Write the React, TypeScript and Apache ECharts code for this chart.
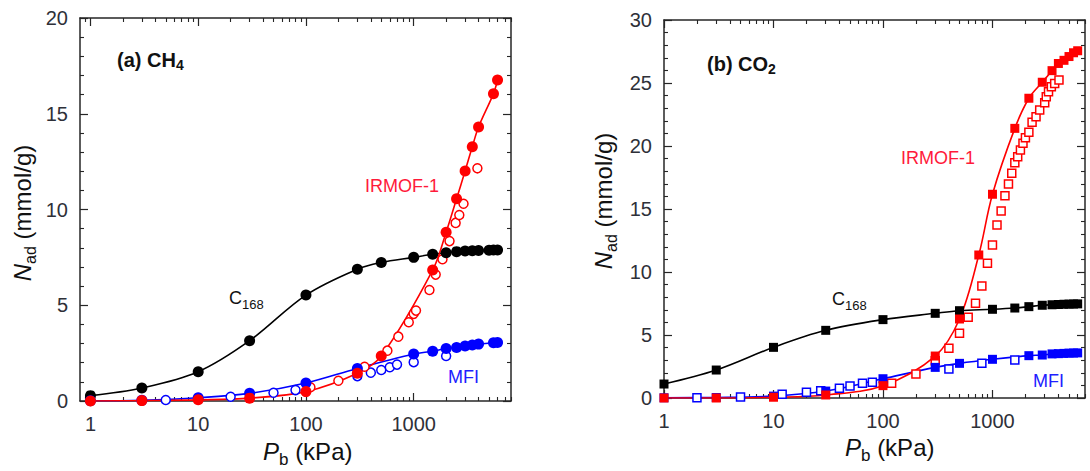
import React, { useEffect, useRef } from 'react';
import * as echarts from 'echarts';

// ---------- (a) CH4 : [pressure kPa, loading mmol/g] ----------
const ch4C168: [number, number][] = [
  [1, 0.28], [3, 0.68], [10, 1.53], [30, 3.15], [100, 5.53], [300, 6.88], [500, 7.23],
  [1000, 7.5], [1500, 7.66], [2000, 7.74], [2500, 7.8], [3000, 7.83], [3500, 7.85],
  [4000, 7.86], [5000, 7.87], [5500, 7.88], [6000, 7.88],
];
const ch4Irmof: [number, number][] = [
  [1, 0], [3, 0.02], [10, 0.06], [30, 0.15], [100, 0.49], [300, 1.45], [500, 2.35],
  [1500, 6.84], [2000, 8.81], [2500, 10.56], [3000, 12.01], [3500, 13.28], [4000, 14.31],
  [5500, 16.05], [6000, 16.76],
];
const ch4IrmofOpen: [number, number][] = [
  [110, 0.72], [200, 1.06], [350, 1.79], [570, 2.63], [720, 3.36], [900, 4.11], [1000, 4.55],
  [1050, 4.72], [1400, 5.8], [1600, 6.6], [1850, 7.4], [2150, 8.35], [2450, 9.3], [2650, 9.71],
  [2900, 10.3], [3900, 12.15],
];
const ch4Mfi: [number, number][] = [
  [1, 0.01], [3, 0.04], [10, 0.17], [30, 0.4], [100, 0.94], [300, 1.7], [1000, 2.45],
  [1500, 2.6], [2000, 2.74], [2500, 2.79], [3000, 2.87], [3500, 2.92], [4000, 2.97],
  [5500, 3.04], [6000, 3.06],
];
const ch4MfiOpen: [number, number][] = [
  [5, 0.05], [20, 0.22], [50, 0.43], [80, 0.57], [300, 1.3], [400, 1.48], [500, 1.62],
  [600, 1.76], [700, 1.9], [1000, 2.03], [2000, 2.35],
];

// ---------- (b) CO2 ----------
const co2C168: [number, number][] = [
  [1, 1.11], [3, 2.22], [10, 4.02], [30, 5.37], [100, 6.22], [300, 6.72], [500, 6.93],
  [1000, 7.04], [1600, 7.14], [2150, 7.25], [2850, 7.36], [3500, 7.4], [4000, 7.42],
  [4500, 7.44], [5000, 7.45], [5500, 7.46], [6000, 7.47],
];
const co2Irmof: [number, number][] = [
  [1, 0], [3, 0], [10, 0.06], [30, 0.24], [100, 0.98], [300, 3.33], [500, 6.27], [750, 11.35],
  [1000, 16.17], [1600, 21.4], [2150, 23.79], [2850, 25.06], [3500, 25.98], [4000, 26.55],
  [4500, 26.8], [5000, 27.1], [5500, 27.4], [6000, 27.56],
];
const co2IrmofOpen: [number, number][] = [
  [120, 1.17], [200, 1.9], [300, 2.96], [400, 3.94], [500, 5.13], [600, 6.4], [700, 7.52],
  [800, 8.89], [900, 10.69], [1000, 12.14], [1100, 13.73], [1200, 14.84], [1300, 16.06],
  [1400, 16.98], [1500, 17.83], [1600, 18.67], [1700, 19.15], [1800, 19.68], [1900, 20.21],
  [2000, 20.66], [2150, 21.1], [2300, 21.88], [2500, 22.33], [2700, 22.86], [3000, 23.44],
  [3100, 23.9], [3250, 24.3], [3450, 24.7], [3700, 24.97], [4050, 25.24],
];
const co2Mfi: [number, number][] = [
  [1, 0.02], [3, 0.04], [10, 0.15], [30, 0.55], [100, 1.53], [300, 2.43], [500, 2.75],
  [1000, 3.07], [2150, 3.36], [2850, 3.41], [3500, 3.5], [4000, 3.52], [4500, 3.54],
  [5000, 3.56], [5500, 3.57], [6000, 3.58],
];
const co2MfiOpen: [number, number][] = [
  [2, 0.02], [5, 0.07], [12, 0.3], [20, 0.45], [27, 0.58], [40, 0.77], [50, 0.95],
  [65, 1.17], [80, 1.25], [400, 2.3], [800, 2.75], [1600, 3.02],
];

// ---------- axes ----------
const xMajor = [1, 10, 100, 1000];
const ch4XMinor = [
  0.9, 2, 3, 4, 5, 6, 7, 8, 9, 20, 30, 40, 50, 60, 70, 80, 90,
  200, 300, 400, 500, 600, 700, 800, 900, 2000, 3000, 4000, 5000, 6000, 7000, 8000,
];
const co2XMinor = [
  2, 3, 4, 5, 6, 7, 8, 9, 20, 30, 40, 50, 60, 70, 80, 90,
  200, 300, 400, 500, 600, 700, 800, 900, 2000, 3000, 4000, 5000, 6000, 7000,
];
const ch4XRange = [0.8, 8000];
const co2XRange = [1, 7000];
const ch4YMax = 20;
const co2YMax = 30;
const yStep = 5;

const FONT = '"Liberation Sans", Arial, Helvetica, sans-serif';
const AXIS = '#262626';
const LABEL = '#2e3038';
const RED = '#ff0000';
const BLUE = '#0000ff';
const BLACK = '#000000';

const measureCtx = typeof document !== 'undefined'
  ? document.createElement('canvas').getContext('2d')
  : null;

function textWidth(t: string, size: number, italic?: boolean, bold?: boolean) {
  if (!measureCtx) return t.length * size * 0.55;
  measureCtx.font = `${italic ? 'italic ' : ''}${bold ? 'bold ' : ''}${size}px ${FONT}`;
  return measureCtx.measureText(t).width;
}

type Run = { t: string; size: number; italic?: boolean; bold?: boolean; dy?: number };

// Lays out a line of mixed-size text (sub-scripts) as a graphic group.
function runText(runs: Run[], x: number, y: number, color: string, opts: { rotation?: number; center?: boolean } = {}) {
  const widths = runs.map((r) => textWidth(r.t, r.size, r.italic, r.bold));
  const total = widths.reduce((a, b) => a + b, 0);
  let cx = opts.center ? -total / 2 : 0;
  const children = runs.map((r, i) => {
    const el = {
      type: 'text',
      x: cx,
      y: r.dy || 0,
      style: {
        text: r.t,
        fill: color,
        fontSize: r.size,
        fontFamily: FONT,
        fontStyle: r.italic ? 'italic' : 'normal',
        fontWeight: r.bold ? 'bold' : 'normal',
        align: 'left',
        verticalAlign: 'middle',
        textAlign: 'left',
        textVerticalAlign: 'middle',
      },
    };
    cx += widths[i];
    return el;
  });
  return { type: 'group', x, y, rotation: opts.rotation || 0, silent: true, children };
}

function logAxes(gridIndex: number, range: number[], minor: number[]) {
  const base = {
    type: 'log',
    logBase: 10,
    gridIndex,
    min: range[0],
    max: range[1],
    splitLine: { show: false },
    minorTick: { show: false },
    minorSplitLine: { show: false },
  };
  const line = { show: true, onZero: false, lineStyle: { color: AXIS, width: 1.5 } };
  const noLine = { show: false, onZero: false };
  const majTick = { show: true, inside: true, length: 8, customValues: xMajor, lineStyle: { color: AXIS, width: 1.2 } };
  const minTick = { show: true, inside: true, length: 4, customValues: minor, lineStyle: { color: AXIS, width: 1.1 } };
  const labels = {
    show: true,
    customValues: xMajor,
    formatter: (v: number) => String(v),
    fontSize: 20,
    fontFamily: FONT,
    color: LABEL,
    margin: 13,
  };
  return [
    { ...base, position: 'bottom', axisLine: line, axisTick: majTick, axisLabel: labels },
    { ...base, position: 'bottom', axisLine: noLine, axisTick: minTick, axisLabel: { show: false } },
    { ...base, position: 'top', axisLine: line, axisTick: majTick, axisLabel: { show: false } },
    { ...base, position: 'top', axisLine: noLine, axisTick: minTick, axisLabel: { show: false } },
  ];
}

function valueAxes(gridIndex: number, max: number) {
  const base = {
    type: 'value',
    gridIndex,
    min: 0,
    max,
    interval: yStep,
    splitLine: { show: false },
    minorSplitLine: { show: false },
    axisLine: { show: true, onZero: false, lineStyle: { color: AXIS, width: 1.5 } },
    axisTick: { show: true, inside: true, length: 8, lineStyle: { color: AXIS, width: 1.2 } },
    minorTick: { show: true, splitNumber: 5, length: 4, lineStyle: { color: AXIS, width: 1.1 } },
  };
  return [
    {
      ...base,
      position: 'left',
      axisLabel: { show: true, fontSize: 20, fontFamily: FONT, color: LABEL, margin: 12 },
    },
    { ...base, position: 'right', axisLabel: { show: false } },
  ];
}

function curve(data: [number, number][], color: string, xi: number, yi: number) {
  return {
    type: 'line',
    data,
    xAxisIndex: xi,
    yAxisIndex: yi,
    smooth: 0.35,
    showSymbol: false,
    symbol: 'none',
    lineStyle: { color, width: 1.6 },
    z: 2,
    silent: true,
  };
}

function filled(data: [number, number][], color: string, xi: number, yi: number, symbol: string, size: number) {
  return {
    type: 'scatter',
    data,
    xAxisIndex: xi,
    yAxisIndex: yi,
    symbol,
    symbolSize: size,
    itemStyle: { color, opacity: 1 },
    z: 4,
    silent: true,
  };
}

function hollow(data: [number, number][], color: string, xi: number, yi: number, symbol: string, size: number) {
  return {
    type: 'scatter',
    data,
    xAxisIndex: xi,
    yAxisIndex: yi,
    symbol,
    symbolSize: size,
    itemStyle: { color: '#ffffff', borderColor: color, borderWidth: 1.5, opacity: 1 },
    z: 3,
    silent: true,
  };
}

export default function App() {
  const ref = useRef<HTMLDivElement>(null);

  useEffect(() => {
    if (!ref.current) return;
    const chart = echarts.init(ref.current, undefined, { renderer: 'svg' });

    const xAxis = [...logAxes(0, ch4XRange, ch4XMinor), ...logAxes(1, co2XRange, co2XMinor)];
    const yAxis = [...valueAxes(0, ch4YMax), ...valueAxes(1, co2YMax)];

    const series = [
      // (a) CH4 — x axis 0, y axis 0
      curve(ch4C168, BLACK, 0, 0),
      curve(ch4Mfi, BLUE, 0, 0),
      curve(ch4Irmof, RED, 0, 0),
      hollow(ch4MfiOpen, BLUE, 0, 0, 'circle', 9),
      hollow(ch4IrmofOpen, RED, 0, 0, 'circle', 9),
      filled(ch4C168, BLACK, 0, 0, 'circle', 11),
      filled(ch4Mfi, BLUE, 0, 0, 'circle', 11),
      filled(ch4Irmof, RED, 0, 0, 'circle', 11),
      // (b) CO2 — x axis 4, y axis 2
      curve(co2C168, BLACK, 4, 2),
      curve(co2Mfi, BLUE, 4, 2),
      curve(co2Irmof, RED, 4, 2),
      hollow(co2MfiOpen, BLUE, 4, 2, 'rect', 8),
      hollow(co2IrmofOpen, RED, 4, 2, 'rect', 8),
      filled(co2C168, BLACK, 4, 2, 'rect', 9),
      filled(co2Mfi, BLUE, 4, 2, 'rect', 9),
      filled(co2Irmof, RED, 4, 2, 'rect', 9),
    ];

    const graphic = [
      // panel tags
      runText([{ t: '(a) CH', size: 20, bold: true }, { t: '4', size: 14, bold: true, dy: 5 }], 117, 60, '#111'),
      runText([{ t: '(b) CO', size: 20, bold: true }, { t: '2', size: 14, bold: true, dy: 5 }], 707, 64, '#111'),
      // series labels, (a)
      runText([{ t: 'IRMOF-1', size: 18 }], 402, 186, '#ff1a3a', { center: true }),
      runText([{ t: 'C', size: 18 }, { t: '168', size: 13, dy: 6 }], 229, 298, '#111'),
      runText([{ t: 'MFI', size: 18 }], 448, 377, '#2020ff'),
      // series labels, (b)
      runText([{ t: 'IRMOF-1', size: 18 }], 938, 158, '#ff1a3a', { center: true }),
      runText([{ t: 'C', size: 18 }, { t: '168', size: 13, dy: 6 }], 832, 299, '#111'),
      runText([{ t: 'MFI', size: 18 }], 1033, 381, '#2020ff'),
      // axis titles
      runText([{ t: 'P', size: 24, italic: true }, { t: 'b', size: 17, dy: 8 }, { t: ' (kPa)', size: 24 }], 263, 451, '#111'),
      runText([{ t: 'P', size: 24, italic: true }, { t: 'b', size: 17, dy: 8 }, { t: ' (kPa)', size: 24 }], 845, 447, '#111'),
      runText(
        [{ t: 'N', size: 24, italic: true }, { t: 'ad', size: 16, dy: 8 }, { t: ' (mmol/g)', size: 24 }],
        22, 213, '#111', { rotation: Math.PI / 2, center: true }
      ),
      runText(
        [{ t: 'N', size: 24, italic: true }, { t: 'ad', size: 16, dy: 8 }, { t: ' (mmol/g)', size: 24 }],
        603, 201, '#111', { rotation: Math.PI / 2, center: true }
      ),
    ];

    chart.setOption({
      animation: false,
      backgroundColor: '#ffffff',
      grid: [
        { left: 80, top: 18, width: 431, height: 383, containLabel: false },
        { left: 664, top: 20, width: 421, height: 378, containLabel: false },
      ],
      xAxis,
      yAxis,
      series,
      graphic,
    });

    return () => chart.dispose();
  }, []);

  return (
    <div
      ref={ref}
      style={{ position: 'absolute', left: 0, top: 0, width: 1090, height: 471, background: '#fff' }}
    />
  );
}
